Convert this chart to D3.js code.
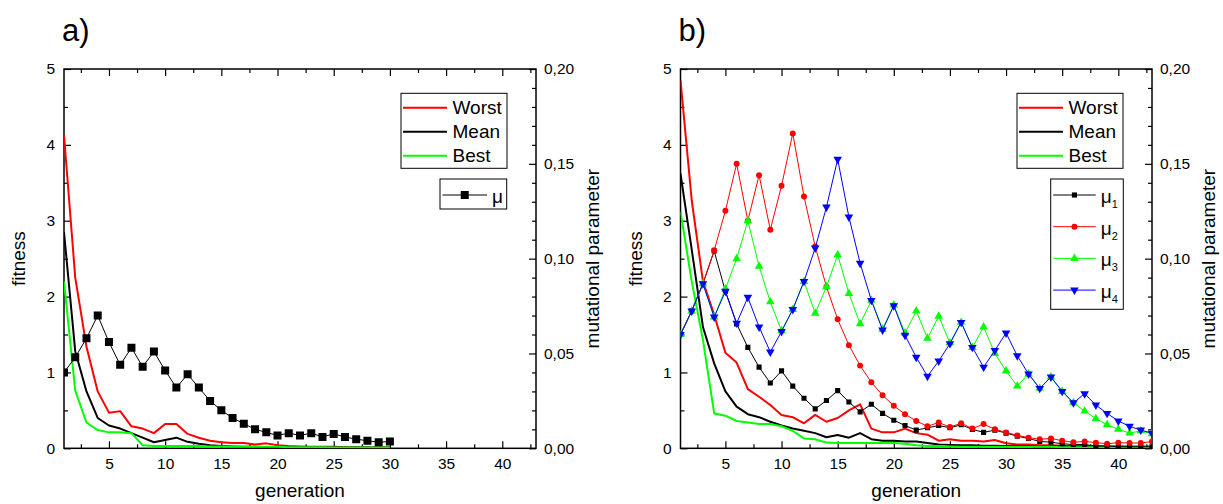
<!DOCTYPE html>
<html><head><meta charset="utf-8">
<script src="https://cdn.jsdelivr.net/npm/d3@7"></script>
<style>body{margin:0;background:#fff}svg{display:block}text{font-family:"Liberation Sans",Arial,Helvetica,sans-serif;fill:#000}</style>
</head><body><svg id="c" width="1223" height="504"></svg>
<script>
// ---------- data ----------
const genA = [1,2,3,4,5,6,7,8,9,10,11,12,13,14,15,16,17,18,19,20,21,22,23,24,25,26,27,28,29,30];
const genB = [1,2,3,4,5,6,7,8,9,10,11,12,13,14,15,16,17,18,19,20,21,22,23,24,25,26,27,28,29,30,31,32,33,34,35,36,37,38,39,40,41,42,43];

const worstA = [4.13,2.25,1.34,0.75,0.47,0.49,0.29,0.26,0.20,0.32,0.32,0.19,0.14,0.10,0.08,0.07,0.07,0.05,0.065,0.04,0.03,0.025,0.02,0.02,0.02,0.015,0.015,0.01,0.01,0.01];
const meanA  = [2.85,1.28,0.75,0.40,0.30,0.26,0.20,0.14,0.08,0.11,0.14,0.085,0.06,0.04,0.03,0.025,0.02,0.02,0.015,0.015,0.01,0.01,0.01,0.01,0.01,0.01,0.01,0.01,0.01,0.01];
const bestA  = [2.2,0.76,0.34,0.24,0.21,0.21,0.20,0.04,0.03,0.03,0.03,0.03,0.03,0.025,0.025,0.02,0.02,0.02,0.02,0.02,0.015,0.015,0.015,0.015,0.01,0.01,0.01,0.01,0.01,0.01];
const muA    = [0.040,0.048,0.058,0.070,0.056,0.044,0.053,0.043,0.051,0.041,0.032,0.039,0.032,0.025,0.020,0.016,0.013,0.010,0.0084,0.0068,0.008,0.0068,0.008,0.006,0.0076,0.006,0.0048,0.004,0.0032,0.0036];

const worstB = [4.85,3.27,2.2,1.76,1.26,1.13,0.78,0.68,0.57,0.44,0.41,0.33,0.44,0.35,0.40,0.50,0.58,0.26,0.21,0.21,0.26,0.20,0.18,0.10,0.12,0.10,0.10,0.09,0.11,0.066,0.05,0.05,0.04,0.04,0.035,0.03,0.03,0.03,0.025,0.025,0.02,0.02,0.02];
const meanB  = [3.62,2.62,1.6,1.12,0.75,0.55,0.45,0.41,0.35,0.30,0.26,0.23,0.20,0.145,0.175,0.14,0.20,0.12,0.10,0.10,0.09,0.09,0.07,0.05,0.045,0.04,0.04,0.035,0.035,0.03,0.03,0.03,0.025,0.025,0.025,0.02,0.02,0.02,0.02,0.02,0.02,0.02,0.02];
const bestB  = [3.12,2.2,1.43,0.46,0.43,0.36,0.34,0.32,0.32,0.29,0.23,0.13,0.12,0.075,0.07,0.07,0.07,0.07,0.07,0.07,0.06,0.04,0.03,0.03,0.025,0.02,0.02,0.02,0.02,0.02,0.02,0.02,0.02,0.02,0.015,0.015,0.015,0.015,0.015,0.015,0.015,0.015,0.015];
const mu1B = [0.060,0.0724,0.0868,0.104,0.0828,0.0656,0.0532,0.0428,0.0344,0.0408,0.0328,0.0264,0.0208,0.0252,0.0304,0.0244,0.0192,0.0232,0.0184,0.0148,0.012,0.0096,0.0108,0.012,0.0108,0.0124,0.010,0.0084,0.0096,0.008,0.0064,0.0052,0.0036,0.0032,0.0024,0.002,0.002,0.0012,0.0012,0.0008,0.0008,0.0008,0.0008];
const mu2B = [0.060,0.0724,0.0868,0.1044,0.1252,0.150,0.120,0.144,0.1152,0.1384,0.166,0.1328,0.1064,0.0852,0.068,0.0544,0.0436,0.0348,0.028,0.0224,0.018,0.0144,0.0116,0.0136,0.0112,0.0132,0.0104,0.0128,0.010,0.0084,0.0068,0.0056,0.0048,0.0052,0.004,0.0032,0.0036,0.003,0.0024,0.003,0.0028,0.0028,0.0036];
const mu3B = [0.060,0.0724,0.0868,0.0692,0.084,0.100,0.120,0.096,0.0772,0.062,0.0732,0.088,0.0712,0.0852,0.102,0.0816,0.0656,0.078,0.0628,0.0756,0.0608,0.0724,0.058,0.0696,0.0556,0.0664,0.0532,0.064,0.050,0.0408,0.0328,0.0392,0.0316,0.0376,0.030,0.024,0.0196,0.0156,0.0124,0.010,0.008,0.0092,0.0076];
const mu4B = [0.060,0.0724,0.0868,0.0692,0.0828,0.066,0.0796,0.064,0.0508,0.0616,0.0732,0.088,0.1056,0.1272,0.1524,0.122,0.0976,0.078,0.0624,0.0752,0.0596,0.048,0.038,0.046,0.0552,0.0664,0.0532,0.0428,0.0516,0.0608,0.0488,0.0392,0.0316,0.0376,0.030,0.024,0.0288,0.0228,0.0184,0.0144,0.0116,0.0096,0.008];

const xTicks = [5,10,15,20,25,30,35,40];
const xMinor = [2.5,7.5,12.5,17.5,22.5,27.5,32.5,37.5,42.5];
const yTicks = [0,1,2,3,4,5];
const yMinor = [0.5,1.5,2.5,3.5,4.5];
const rTicks = [0,0.05,0.10,0.15,0.20];
const rMinor = [0.01,0.02,0.03,0.04,0.06,0.07,0.08,0.09,0.11,0.12,0.13,0.14,0.16,0.17,0.18,0.19];
const fitLabels = ["Worst","Mean","Best"];
const panelTitles = ["a)","b)"];

// ---------- drawing ----------
const svg = d3.select("#c");
const TOP = 69, BOT = 448.3;
const fmtR = d => d3.format(".2f")(d).replace(".", ",");

function drawPanel(cfg){
  const g = svg.append("g");
  const x = d3.scaleLinear().domain([1,43]).range([cfg.left, cfg.right]);
  const y = d3.scaleLinear().domain([0,5]).range([BOT, TOP]);
  const yR = d3.scaleLinear().domain([0,0.2]).range([BOT, TOP]);

  const cid = "clip" + cfg.id;
  svg.append("clipPath").attr("id", cid).append("rect")
    .attr("x", cfg.left).attr("y", TOP).attr("width", cfg.right - cfg.left).attr("height", BOT - TOP);

  function ax(axis, tr){
    const a = g.append("g").attr("transform", tr).call(axis);
    a.select(".domain").remove();
    a.selectAll("line").attr("stroke", "#000").attr("stroke-width", 1.2);
    a.selectAll("text").style("font-size", "15.5px").attr("font-family", null);
    return a;
  }
  ax(d3.axisBottom(x).tickValues(xTicks).tickSize(-7).tickPadding(10), `translate(0,${BOT})`);
  ax(d3.axisBottom(x).tickValues(xMinor).tickSize(-4).tickFormat(""), `translate(0,${BOT})`);
  ax(d3.axisTop(x).tickValues(xTicks).tickSize(-7).tickFormat(""), `translate(0,${TOP})`);
  ax(d3.axisTop(x).tickValues(xMinor).tickSize(-4).tickFormat(""), `translate(0,${TOP})`);
  ax(d3.axisLeft(y).tickValues(yTicks).tickSize(-7).tickPadding(9).tickFormat(d3.format("d")), `translate(${cfg.left},0)`);
  ax(d3.axisLeft(y).tickValues(yMinor).tickSize(-4).tickFormat(""), `translate(${cfg.left},0)`);
  ax(d3.axisRight(yR).tickValues(rTicks).tickSize(-7).tickPadding(8).tickFormat(fmtR), `translate(${cfg.right},0)`);
  ax(d3.axisRight(yR).tickValues(rMinor).tickSize(-4).tickFormat(""), `translate(${cfg.right},0)`);

  g.append("rect").attr("x", cfg.left).attr("y", TOP)
    .attr("width", cfg.right - cfg.left).attr("height", BOT - TOP)
    .attr("fill", "none").attr("stroke", "#000").attr("stroke-width", 1.5);

  const plot = g.append("g").attr("clip-path", `url(#${cid})`);
  const lineF = d3.line().x((d,i) => x(cfg.gen[i])).y(d => y(d));
  const lineR = d3.line().x((d,i) => x(cfg.gen[i])).y(d => yR(d));
  const fitColors = ["#ff0000","#000000","#00ff00"];
  cfg.fit.forEach((s,k) => {
    plot.append("path").datum(s).attr("d", lineF).attr("fill","none")
      .attr("stroke", fitColors[k]).attr("stroke-width", 2).attr("stroke-linejoin","round");
  });
  cfg.mu.forEach(m => {
    plot.append("path").datum(m.data).attr("d", lineR).attr("fill","none")
      .attr("stroke", m.color).attr("stroke-width", 1);
    plot.append("g").selectAll("path").data(m.data).join("path")
      .attr("transform", (d,i) => `translate(${x(cfg.gen[i])},${yR(d)}) rotate(${m.rot||0})`)
      .attr("d", d3.symbol().type(m.sym).size(m.size))
      .attr("fill", m.color);
  });

  // legend 1
  const lx = cfg.right - 29 - 106, ly = 93.3;
  g.append("rect").attr("x", lx).attr("y", ly).attr("width", 106).attr("height", 75)
    .attr("fill", "#fff").attr("stroke", "#000").attr("stroke-width", 1);
  fitLabels.forEach((t,k) => {
    const yy = ly + 14.4 + k*24;
    g.append("line").attr("x1", lx+2).attr("x2", lx+46).attr("y1", yy).attr("y2", yy)
      .attr("stroke", fitColors[k]).attr("stroke-width", 2);
    g.append("text").attr("x", lx+51.5).attr("y", yy+6.6).style("font-size","19px").text(t);
  });

  // legend 2
  const b = cfg.muBox;
  g.append("rect").attr("x", b.x).attr("y", 179).attr("width", b.w).attr("height", b.h)
    .attr("fill", "#fff").attr("stroke", "#000").attr("stroke-width", 1);
  cfg.mu.forEach((m,k) => {
    const yy = 195 + k*31.7;
    g.append("line").attr("x1", b.x+2.5).attr("x2", b.x+b.lineEnd).attr("y1", yy).attr("y2", yy)
      .attr("stroke", m.color).attr("stroke-width", 1);
    g.append("path").attr("transform", `translate(${b.x+2.5+(b.lineEnd-2.5)/2},${yy}) rotate(${m.rot||0})`)
      .attr("d", d3.symbol().type(m.sym).size(m.size)).attr("fill", m.color);
    const t = g.append("text").attr("x", b.x+b.lineEnd+5).attr("y", yy+8).style("font-size","19px").text("μ");
    if (m.sub) t.append("tspan").attr("dy", 5).style("font-size","11px").text(m.sub);
  });

  svg.append("text").attr("x", cfg.left - 2).attr("y", 41).style("font-size","31px").text(cfg.title);
  svg.append("text").attr("x", (cfg.left+cfg.right)/2).attr("y", 497).attr("text-anchor","middle")
    .style("font-size","19px").text("generation");
  svg.append("text").attr("transform", `translate(${cfg.left-39},${(TOP+BOT)/2}) rotate(-90)`)
    .attr("text-anchor","middle").style("font-size","19px").text("fitness");
  svg.append("text").attr("transform", `translate(${cfg.right+63},${(TOP+BOT)/2}) rotate(-90)`)
    .attr("text-anchor","middle").style("font-size","19px").text("mutational parameter");
}

drawPanel({
  id: "a", left: 64, right: 536, gen: genA, title: panelTitles[0],
  fit: [worstA, meanA, bestA],
  mu: [{data: muA, color: "#000", sym: d3.symbolSquare, size: 64, sub: ""}],
  muBox: {x: 440, w: 66.7, h: 30, lineEnd: 47}
});
drawPanel({
  id: "b", left: 680.5, right: 1152, gen: genB, title: panelTitles[1],
  fit: [worstB, meanB, bestB],
  mu: [
    {data: mu1B, color: "#000000", sym: d3.symbolSquare, size: 26, sub: "1"},
    {data: mu2B, color: "#ff0000", sym: d3.symbolCircle, size: 28, sub: "2"},
    {data: mu3B, color: "#00ff00", sym: d3.symbolTriangle, size: 32, sub: "3"},
    {data: mu4B, color: "#0000ff", sym: d3.symbolTriangle, size: 32, sub: "4", rot: 180}
  ],
  muBox: {x: 1050.7, w: 72.6, h: 130.3, lineEnd: 45}
});
</script></body></html>
